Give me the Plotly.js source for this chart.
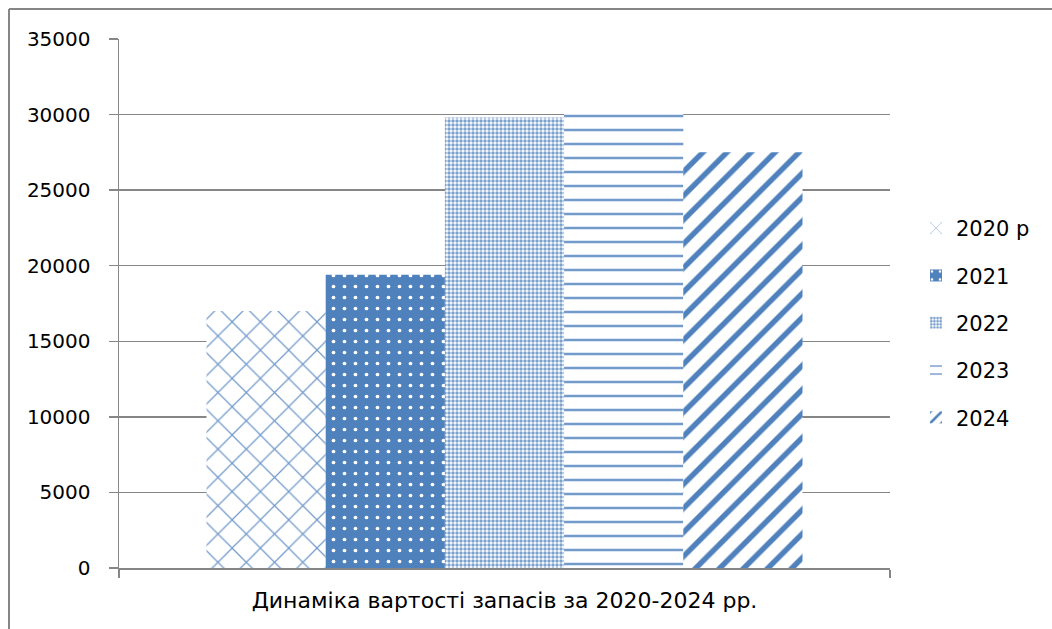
<!DOCTYPE html>
<html>
<head>
<meta charset="utf-8">
<script src="https://cdn.plot.ly/plotly-3.0.1.min.js"></script>
<style>
  html, body { margin: 0; padding: 0; background: #ffffff; }
  #chart { width: 1052px; height: 629px; }
</style>
</head>
<body>
<div id="chart"></div>
<script>
const category = ["Динаміка вартості запасів за 2020-2024 рр."];
const seriesNames = ["2020 р", "2021", "2022", "2023", "2024"];
const values2020 = [17000];
const values2021 = [19400];
const values2022 = [29800];
const values2023 = [30600];
const values2024 = [27500];
const yTickVals = [0, 5000, 10000, 15000, 20000, 25000, 30000, 35000];
const yTickText = ["0", "5000", "10000", "15000", "20000", "25000", "30000", "35000"];

const blue = "#4f81bd";
const seriesValues = [values2020, values2021, values2022, values2023, values2024];
const patterns = [
  {shape: "x", size: 20, solidity: 0.12, fgcolor: blue, bgcolor: "#ffffff", fgopacity: 0.8, fillmode: "replace"},
  {shape: ".", size: 11, solidity: 0.09, fgcolor: "#ffffff", bgcolor: blue, fgopacity: 1, fillmode: "replace"},
  {shape: ".", size: 4, solidity: 0.6, fgcolor: blue, bgcolor: "#ffffff", fgopacity: 0.75, fillmode: "replace"},
  {shape: "-", size: 14, solidity: 0.18, fgcolor: blue, bgcolor: "#ffffff", fgopacity: 0.8, fillmode: "replace"},
  {shape: "/", size: 17, solidity: 0.32, fgcolor: blue, bgcolor: "#ffffff", fgopacity: 1, fillmode: "replace"}
];

const traces = seriesNames.map((name, i) => ({
  type: "bar",
  name: name,
  x: category,
  y: seriesValues[i],
  legendgroup: "g" + i,
  marker: {
    color: patterns[i].bgcolor,
    line: {width: 0},
    pattern: patterns[i]
  },
  hoverinfo: "skip"
}));

const L = 119, R = 890, T = 39, B = 568, W = 1052, H = 629;
const px = v => (v - L) / (R - L);
const py = v => (B - v) / (B - T);

const family = "DejaVu Sans, Noto Sans, sans-serif";
const font = {family: family, size: 20, color: "#000000"};
const layout = {
  width: W,
  height: H,
  margin: {l: L, r: W - R, t: T, b: H - B, pad: 0},
  paper_bgcolor: "#ffffff",
  plot_bgcolor: "#ffffff",
  font: font,
  barmode: "group",
  bargap: 0.227,
  bargroupgap: 0,
  showlegend: true,
  legend: {
    x: px(916), xanchor: "left",
    y: py(323), yanchor: "middle",
    font: {family: family, size: 21, color: "#000000"},
    tracegroupgap: 17,
    bgcolor: "rgba(0,0,0,0)"
  },
  xaxis: {
    type: "category",
    showgrid: false,
    showline: true,
    linecolor: "#868686",
    linewidth: 1.5,
    ticks: "outside",
    tickson: "boundaries",
    ticklen: 8,
    tickcolor: "#868686",
    tickwidth: 1.5,
    ticklabelstandoff: 12,
    tickfont: {family: family, size: 22, color: "#000000"},
    zeroline: false
  },
  yaxis: {
    range: [0, 35000],
    tickvals: yTickVals,
    ticktext: yTickText,
    showgrid: true,
    gridcolor: "#868686",
    gridwidth: 1.5,
    showline: true,
    linecolor: "#868686",
    linewidth: 1.5,
    ticks: "outside",
    ticklen: 9,
    tickcolor: "#868686",
    tickwidth: 1.5,
    ticklabelstandoff: 14,
    tickfont: font,
    zeroline: false
  },
  shapes: [
    {type: "line", xref: "paper", yref: "paper", x0: px(9), x1: px(W), y0: py(9), y1: py(9), line: {color: "#868686", width: 2}},
    {type: "line", xref: "paper", yref: "paper", x0: px(9), x1: px(9), y0: py(9), y1: py(H), line: {color: "#868686", width: 2}}
  ]
};

Plotly.newPlot("chart", traces, layout, {displayModeBar: false, staticPlot: true});
</script>
</body>
</html>
